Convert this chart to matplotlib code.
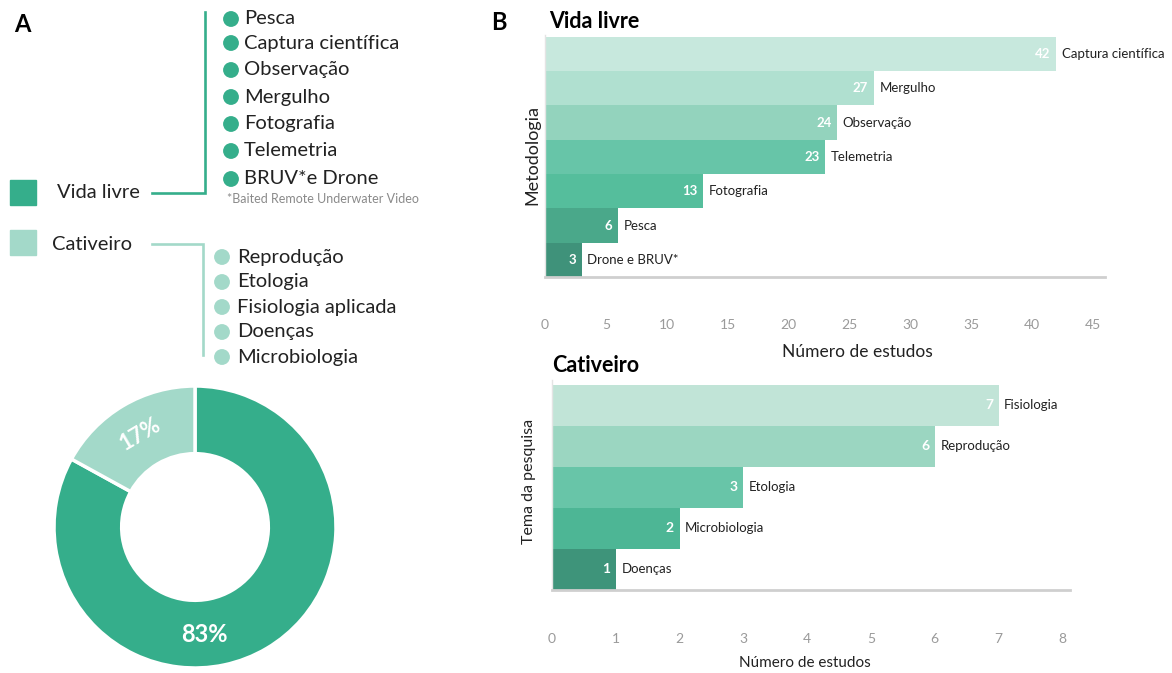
import matplotlib
matplotlib.use("Agg")
import matplotlib.pyplot as plt
from matplotlib.patches import Rectangle, Circle

plt.rcParams['font.family'] = ['Lato', 'DejaVu Sans']

# ---- data ----
share_labels = ['Vida livre', 'Cativeiro']
share_values = [83, 17]
share_colors = ['#35AE8B', '#A3D9C9']

wild_items = ['Pesca', 'Captura científica', 'Observação', 'Mergulho',
              'Fotografia', 'Telemetria', 'BRUV*e Drone']
captive_items = ['Reprodução', 'Etologia', 'Fisiologia aplicada', 'Doenças',
                 'Microbiologia']
footnote = '*Baited Remote Underwater Video'

wild_methods = ['Captura científica', 'Mergulho', 'Observação', 'Telemetria',
                'Fotografia', 'Pesca', 'Drone e BRUV*']
wild_counts = [42, 27, 24, 23, 13, 6, 3]
wild_colors = ['#C7E8DD', '#B0E0D0', '#93D3BD', '#67C5A8', '#55BE9C',
               '#4AA88A', '#3F927A']
wild_ticks = [0, 5, 10, 15, 20, 25, 30, 35, 40, 45]

captive_topics = ['Fisiologia', 'Reprodução', 'Etologia', 'Microbiologia',
                  'Doenças']
captive_counts = [7, 6, 3, 2, 1]
captive_colors = ['#C1E4D7', '#9BD6C1', '#68C5A8', '#4DB695', '#3E947A']
captive_ticks = [0, 1, 2, 3, 4, 5, 6, 7, 8]

W, H = 1172, 673
fig = plt.figure(figsize=(W / 100, H / 100), dpi=100)


def rect(l, t, r, b):
    return [l / W, 1 - b / H, (r - l) / W, (b - t) / H]


# ---- panel A: legend tree in pixel space ----
ov = fig.add_axes([0, 0, 1, 1])
ov.set_xlim(0, W)
ov.set_ylim(H, 0)
ov.axis('off')

ov.text(22, 25, 'A', fontsize=17, fontweight='bold', ha='center', va='center')
ov.text(499, 23, 'B', fontsize=17, fontweight='bold', ha='center', va='center')

dark, light = share_colors
ov.add_patch(Rectangle((10, 180), 26, 25, color=dark))
ov.add_patch(Rectangle((10, 230), 26, 25, color=light))
ov.text(57, 193, share_labels[0], fontsize=14.5, va='center', color='#222')
ov.text(52, 244, share_labels[1], fontsize=14.5, va='center', color='#222')

ov.plot([152, 205, 205], [193, 193, 12], color=dark, lw=1.9,
        solid_joinstyle='miter')
ov.plot([152, 203, 203], [244, 244, 355], color=light, lw=1.9,
        solid_joinstyle='miter')

wild_y = [19, 43, 70, 97, 124, 151, 179]
for name, y in zip(wild_items, wild_y):
    ov.add_patch(Circle((231, y), 7.2, color=dark))
    ov.text(244, y, name, fontsize=14.5, va='center', color='#222')
ov.text(227, 199, footnote, fontsize=9, va='center', color='#8a8a8a')

cap_y = [257, 282, 307, 332, 357]
for name, y in zip(captive_items, cap_y):
    ov.add_patch(Circle((222, y), 7.2, color=light))
    ov.text(237, y, name, fontsize=14.5, va='center', color='#222')

# ---- panel A: donut ----
axd = fig.add_axes(rect(54, 386, 336, 668))
axd.pie(share_values, colors=share_colors, startangle=90, counterclock=False,
        wedgeprops=dict(width=0.48, edgecolor='white', linewidth=2.5))
axd.set_xlim(-1, 1)
axd.set_ylim(-1, 1)
axd.text(-0.39, 0.655, f'{share_values[1]}%', color='white', fontsize=16,
         fontweight='bold', ha='center', va='center', rotation=30.6)
axd.text(0.07, -0.765, f'{share_values[0]}%', color='white', fontsize=17,
         fontweight='bold', ha='center', va='center')


# ---- panel B: horizontal bars ----
def bar_panel(box, cats, vals, cols, ticks, xmax, ymax, tickpad, vsize):
    ax = fig.add_axes(rect(*box))
    n = len(vals)
    ys = list(range(n - 1, -1, -1))
    ax.barh(ys, vals, height=1.0, color=cols, linewidth=0)
    for y, v, c in zip(ys, vals, cats):
        ax.annotate(str(v), xy=(v, y), xytext=(-4, 0),
                    textcoords='offset points', ha='right', va='center',
                    color='white', fontweight='bold', fontsize=vsize)
        ax.annotate(c, xy=(v, y), xytext=(4, 0), textcoords='offset points',
                    ha='left', va='center', color='#222', fontsize=9.5)
    ax.set_xlim(0, xmax)
    ax.set_ylim(-0.5, ymax)
    ax.set_xticks(ticks)
    ax.set_yticks([])
    ax.tick_params(axis='x', length=0, pad=tickpad, labelsize=10,
                   labelcolor='#9a9a9a')
    for s in ('top', 'right'):
        ax.spines[s].set_visible(False)
    ax.spines['left'].set_color('#e4e4e4')
    ax.spines['left'].set_linewidth(1.0)
    ax.spines['bottom'].set_color('#cfcfcf')
    ax.spines['bottom'].set_linewidth(2.0)
    return ax


bar_panel((545, 35, 1105, 277), wild_methods, wild_counts, wild_colors,
          wild_ticks, 46, 6.55, 30, 9.5)
bar_panel((552, 380, 1070, 590), captive_topics, captive_counts,
          captive_colors, captive_ticks, 8.12, 4.62, 31, 10)

ov.text(549, 22, 'Vida livre', fontsize=15.5, fontweight='bold', va='center')
ov.text(552, 365, 'Cativeiro', fontsize=15.5, fontweight='bold', va='center')
ov.text(857, 352, 'Número de estudos', fontsize=12.5, ha='center',
        va='center', color='#222')
ov.text(805, 663, 'Número de estudos', fontsize=11, ha='center',
        va='center', color='#222')
ov.text(532, 155, 'Metodologia', fontsize=13, rotation=90, ha='center',
        va='center', color='#222')
ov.text(529, 481, 'Tema da pesquisa', fontsize=11.5, rotation=90, ha='center',
        va='center', color='#222')

fig.savefig('out.png', dpi=100)
